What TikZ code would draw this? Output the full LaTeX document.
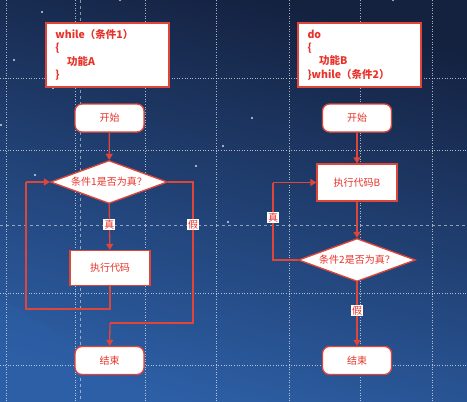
\documentclass[tikz,border=0pt]{standalone}
\usepackage{fontspec}
\setmainfont{Noto Sans CJK SC}
\usetikzlibrary{shapes.geometric,arrows.meta}
\definecolor{fr}{HTML}{E0453A}
\definecolor{tx}{HTML}{E8332A}
\definecolor{bgtop}{HTML}{14213F}
\definecolor{bgbot}{HTML}{2D5FA6}
\begin{document}
\begin{tikzpicture}[x=1pt,y=-1pt,
  base/.style={draw=fr,line width=1.3pt,fill=white,text=tx,font=\fontsize{10}{12}\selectfont},
  term/.style={base,rounded corners=7pt,minimum width=69pt,minimum height=28pt},
  proc/.style={base,minimum width=80pt,minimum height=35pt},
  dec/.style={base,diamond,aspect=2.8,inner sep=0pt,minimum width=117pt,minimum height=43pt},
  code/.style={base,font=\bfseries\fontsize{10.5}{13.3}\selectfont,minimum width=123pt,minimum height=64pt,align=left,text width=104pt},
  conn/.style={draw=fr,line width=1.3pt},
  arr/.style={conn,-{Triangle[length=6pt,width=7pt]}},
  lbl/.style={fill=white,text=tx,inner sep=1pt,font=\fontsize{10}{11}\selectfont},
  grid/.style={white,dotted,line width=0.6pt,opacity=0.65}]
\useasboundingbox (0,0) rectangle (467,402);
\shade[top color=bgtop,bottom color=bgbot,shading angle=-15] (0,0) rectangle (467,402);
\fill[bgbot,opacity=0.35] (0,402) -- (0,300) .. controls (60,330) and (120,380) .. (170,402) -- cycle;
% dotted grid
\foreach \yy in {78,150,293,365} \draw[grid] (0,\yy) -- (467,\yy);
\draw[white,dashed,line width=0.5pt,opacity=0.5] (0,225) -- (467,225);
\foreach \xx in {6,75,145,216,289,360,432} \draw[grid] (\xx,0) -- (\xx,402);
\draw[white,dashed,line width=0.5pt,opacity=0.5] (80,0) -- (80,402);
% stars
\foreach \sx/\sy in {42/12,120/0,53/88,35/175,14/60,196/166,223/146,1/125,340/118,393/0,252/118,228/222}
  \fill[white,opacity=0.8] (\sx,\sy) circle (1.2pt);
% left flowchart
\node[code] (codeA) at (107.5,55) {while（条件1）\\{\{}\\\hspace{1.1em}功能A\\\}};
\node[term] (startA) at (109.5,118) {开始};
\node[dec] (decA) at (109,182) {条件1是否为真？};
\node[proc] (procA) at (110,268) {执行代码};
\node[term] (endA) at (109.5,360.5) {结束};
\coordinate (lA1) at (110,309);
\coordinate (lA2) at (26,309);
\coordinate (lA3) at (26,182);
\coordinate (fA1) at (193,182);
\coordinate (fA2) at (193,323);
\coordinate (fA3) at (110,323);
\draw[arr] (startA) -- (decA);
\draw[arr] (decA) -- node[lbl,pos=0.45]{真} (procA);
\draw[conn] (procA.south) -- (lA1) -- (lA2) -- (lA3);
\draw[arr] (lA3) -- (decA.west);
\draw[conn] (decA.east) -- (fA1) -- node[lbl,pos=0.3]{假} (fA2) -- (fA3);
\draw[arr] (fA3) -- (endA);
% right flowchart
\node[code] (codeB) at (359.5,55) {do\\{\{}\\\hspace{1.1em}功能B\\\}while（条件2）};
\node[term] (startB) at (357,118) {开始};
\node[proc,minimum height=37pt] (procB) at (357,182.5) {执行代码B};
\node[dec] (decB) at (357,260) {条件2是否为真？};
\node[term] (endB) at (357,360.5) {结束};
\coordinate (tB1) at (273,260);
\coordinate (tB2) at (273,182.5);
\draw[arr] (startB) -- (procB);
\draw[arr] (procB) -- (decB);
\draw[conn] (decB.west) -- (tB1) -- node[lbl,pos=0.55]{真} (tB2);
\draw[arr] (tB2) -- (procB.west);
\draw[arr] (decB) -- node[lbl,pos=0.45]{假} (endB);
\end{tikzpicture}
\end{document}
